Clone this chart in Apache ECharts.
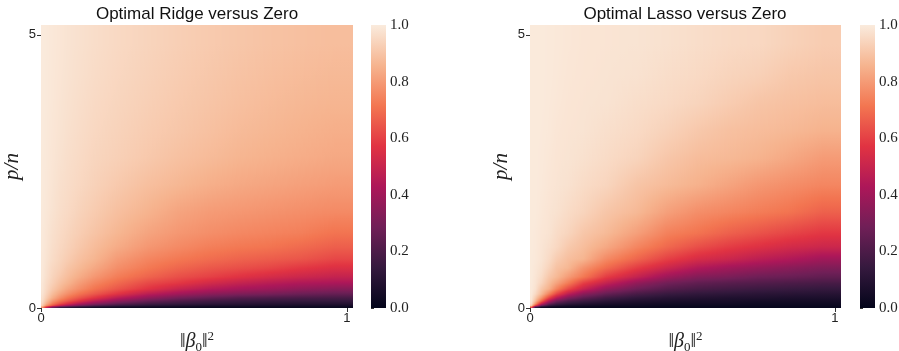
<!DOCTYPE html>
<html><head><meta charset="utf-8">
<script src="https://cdn.jsdelivr.net/npm/echarts@6/dist/echarts.min.js"></script>
<style>html,body{margin:0;padding:0;background:#fff}#c{width:899px;height:351px}</style>
</head><body><div id="c"></div>
<script>
// Cell edges along ||beta0||^2 (x) and p/n (y)
const xEdges = [0, 0.01, 0.025, 0.05, 0.075, 0.1, 0.15, 0.2, 0.3, 0.4, 0.5, 0.6, 0.7, 0.8, 0.9, 1.02];
const yEdges = [0, 0.03, 0.06, 0.1, 0.15, 0.2, 0.3, 0.4, 0.5, 0.65, 0.8, 1.0, 1.25, 1.5, 2.0, 2.5, 3.0, 3.5, 4.0, 4.5, 5.18];
const xTicks = [0, 1];
const yTicks = [0, 5];
const cbTicks = [0, 0.2, 0.4, 0.6, 0.8, 1.0];
const titles = ['Optimal Ridge versus Zero', 'Optimal Lasso versus Zero'];

// Ridge/Zero ratio, rows bottom (small p/n) to top, one value per cell
const ridgeValues = [
 [.78,.52,.30,.17,.13,.09,.06,.04,.03,.025,.02,.02,.02,.02,.02],
 [.91,.75,.61,.47,.37,.27,.19,.13,.095,.075,.06,.06,.055,.05,.05],
 [.94,.84,.72,.62,.54,.43,.33,.24,.17,.14,.12,.105,.095,.09,.09],
 [.96,.89,.79,.71,.65,.57,.47,.36,.265,.21,.175,.155,.145,.14,.14],
 [.97,.92,.845,.77,.71,.645,.57,.46,.36,.29,.25,.215,.20,.19,.185],
 [.98,.94,.88,.82,.77,.71,.65,.57,.465,.40,.35,.32,.30,.275,.26],
 [.985,.955,.91,.865,.82,.77,.71,.645,.57,.50,.45,.415,.39,.36,.34],
 [.988,.962,.93,.89,.858,.805,.75,.69,.62,.58,.53,.49,.46,.435,.425],
 [.991,.97,.94,.91,.88,.84,.79,.73,.675,.63,.60,.565,.535,.51,.49],
 [.992,.975,.95,.93,.90,.87,.83,.77,.72,.68,.65,.63,.61,.58,.555],
 [.993,.98,.96,.94,.92,.89,.86,.80,.75,.72,.695,.675,.66,.645,.615],
 [.994,.984,.966,.95,.934,.909,.878,.838,.79,.76,.735,.72,.71,.69,.665],
 [.995,.986,.971,.957,.943,.923,.898,.863,.82,.79,.77,.755,.745,.735,.71],
 [.996,.99,.978,.965,.955,.937,.917,.887,.855,.82,.80,.79,.78,.77,.76],
 [.997,.992,.982,.97,.962,.95,.934,.912,.885,.865,.845,.83,.82,.81,.80],
 [.997,.993,.985,.976,.967,.957,.943,.93,.91,.89,.875,.86,.85,.84,.83],
 [.998,.994,.987,.98,.972,.962,.95,.937,.92,.905,.89,.875,.865,.855,.845],
 [.998,.995,.989,.982,.975,.966,.955,.943,.928,.913,.90,.887,.876,.867,.86],
 [.998,.995,.99,.984,.978,.97,.96,.948,.934,.92,.907,.895,.885,.877,.87],
 [.998,.996,.991,.986,.98,.973,.964,.953,.94,.927,.915,.904,.895,.888,.882]
];

// Lasso/Zero ratio, rows bottom to top
const lassoValues = [
 [.63,.15,.05,.03,.02,.02,.01,.01,.01,.01,.01,.01,.01,.01,.01],
 [.90,.565,.24,.12,.08,.05,.04,.03,.03,.02,.02,.02,.02,.02,.02],
 [.96,.78,.48,.26,.17,.12,.09,.065,.05,.04,.04,.04,.03,.03,.03],
 [.982,.878,.685,.45,.30,.21,.16,.115,.085,.07,.06,.06,.05,.05,.05],
 [.986,.916,.786,.60,.45,.32,.24,.17,.125,.10,.09,.08,.08,.07,.07],
 [.993,.956,.872,.742,.61,.47,.35,.26,.19,.15,.13,.12,.11,.105,.10],
 [.995,.976,.907,.847,.743,.62,.50,.37,.28,.22,.19,.175,.16,.15,.14],
 [.996,.982,.943,.879,.817,.73,.60,.49,.37,.29,.25,.23,.215,.20,.19],
 [.997,.985,.96,.906,.87,.80,.72,.59,.49,.39,.33,.31,.28,.27,.25],
 [.997,.989,.974,.938,.893,.865,.78,.69,.59,.51,.44,.40,.37,.345,.32],
 [.997,.993,.981,.957,.92,.885,.86,.76,.68,.60,.54,.51,.47,.44,.40],
 [.997,.994,.984,.969,.951,.912,.882,.83,.75,.685,.63,.59,.56,.53,.51],
 [.997,.995,.987,.98,.961,.942,.905,.873,.81,.74,.71,.67,.64,.61,.58],
 [.997,.997,.991,.983,.976,.959,.941,.903,.87,.81,.77,.75,.73,.71,.67],
 [.997,.997,.994,.987,.982,.975,.96,.943,.90,.875,.85,.82,.79,.77,.75],
 [.997,.997,.995,.99,.984,.981,.973,.959,.94,.905,.88,.87,.855,.83,.80],
 [.997,.997,.996,.993,.987,.983,.981,.969,.956,.935,.91,.89,.88,.87,.855],
 [.997,.997,.997,.994,.99,.985,.982,.979,.966,.955,.94,.92,.90,.89,.88],
 [.997,.997,.997,.995,.992,.987,.984,.981,.976,.964,.954,.94,.93,.91,.90],
 [.997,.997,.997,.995,.993,.989,.985,.983,.981,.974,.964,.955,.95,.935,.92]
];

// seaborn "rocket" colormap stops
const rocket = ['#03051a','#35193e','#701f57','#ad1759','#e13342','#f37651','#f6b48f','#faebdd'];
const cmap = v => echarts.color.lerp(Math.max(0, Math.min(1, v)), rocket);

// Shading nodes: cell centres, plus the plot borders
const mids = e => e.slice(0, -1).map((a, k) => (a + e[k + 1]) / 2);
const xNodes = [xEdges[0], ...mids(xEdges), xEdges[xEdges.length - 1]];
const yNodes = [yEdges[0], ...mids(yEdges), yEdges[yEdges.length - 1]];

function padded(values) {
  const R = values.length, C = values[0].length, P = [];
  for (let i = 0; i <= R + 1; i++) {
    const row = values[Math.min(R - 1, Math.max(0, i - 1))];
    P.push(Array.from({ length: C + 2 }, (_, j) => row[Math.min(C - 1, Math.max(0, j - 1))]));
  }
  return P;
}
const fields = [padded(ridgeValues), padded(lassoValues)];

function patches(values) {
  const out = [];
  for (let i = 0; i <= values.length; i++)
    for (let j = 0; j <= values[0].length; j++)
      out.push([xNodes[j], xNodes[j + 1], yNodes[i], yNodes[i + 1], i, j]);
  return out;
}

function renderPatch(params, api) {
  const P = fields[params.seriesIndex];
  const i = api.value(4), j = api.value(5);
  const v00 = P[i][j], v10 = P[i][j + 1], v01 = P[i + 1][j], v11 = P[i + 1][j + 1];
  const pBL = api.coord([api.value(0), api.value(2)]);
  const pTR = api.coord([api.value(1), api.value(3)]);
  const w = pTR[0] - pBL[0], h = pBL[1] - pTR[1];
  if (w <= 0 || h <= 0) return null;
  const xa = Math.round(pBL[0]), xb = Math.round(pTR[0]);
  const ya = Math.round(pTR[1]), yb = Math.round(pBL[1]);
  const children = [];
  for (let px = xa; px < xb; px++) {
    const u = Math.max(0, Math.min(1, (px + 0.5 - pBL[0]) / w));
    const vb = v00 + (v10 - v00) * u, vt = v01 + (v11 - v01) * u;
    const stops = [0, 0.25, 0.5, 0.75, 1].map(t => ({ offset: t, color: cmap(vb + (vt - vb) * t) }));
    children.push({
      type: 'rect',
      shape: { x: px, y: ya, width: 1, height: Math.max(1, yb - ya) },
      style: { fill: new echarts.graphic.LinearGradient(0, 1, 0, 0, stops) }
    });
  }
  return { type: 'group', children };
}

function renderBar(params, api) {
  const p0 = api.coord([0, 1]);
  const p1 = api.coord([1, 0]);
  const stops = rocket.map((c, k) => ({ offset: k / (rocket.length - 1), color: c }));
  return {
    type: 'rect',
    shape: { x: p0[0], y: p0[1], width: p1[0] - p0[0], height: p1[1] - p0[1] },
    style: { fill: new echarts.graphic.LinearGradient(0, 1, 0, 0, stops) }
  };
}

const sansFont = 'Liberation Sans';
const grids = [
  { left: 41, top: 25, width: 312, height: 283, outerBoundsMode: 'none', containLabel: false },
  { left: 530, top: 25, width: 311, height: 283, outerBoundsMode: 'none', containLabel: false },
  { left: 371, top: 25, width: 15, height: 283, outerBoundsMode: 'none', containLabel: false },
  { left: 860, top: 25, width: 15, height: 283, outerBoundsMode: 'none', containLabel: false }
];

const xNameRich = {
  n: { fontFamily: 'Liberation Serif', fontSize: 20, color: '#222', lineHeight: 24 },
  b: { fontFamily: 'Liberation Serif', fontStyle: 'italic', fontSize: 20, color: '#222', lineHeight: 24 },
  s: { fontFamily: 'Liberation Serif', fontSize: 13, color: '#222', verticalAlign: 'bottom', lineHeight: 15 },
  p: { fontFamily: 'Liberation Serif', fontSize: 13, color: '#222', verticalAlign: 'top', lineHeight: 15 }
};

function mainX(i) {
  return {
    type: 'value', gridIndex: i, min: 0, max: xEdges[xEdges.length - 1], interval: 1,
    axisLine: { show: false }, splitLine: { show: false },
    axisTick: { show: true, length: 4, lineStyle: { color: '#333' }, customValues: xTicks },
    axisLabel: { fontFamily: sansFont, fontSize: 13, color: '#222', margin: 4, customValues: xTicks },
    name: '{n|‖}{b|β}{s|0}{n|‖}{p|2}', nameLocation: 'middle', nameGap: 22,
    nameTextStyle: { rich: xNameRich }
  };
}
function mainY(i) {
  return {
    type: 'value', gridIndex: i, min: 0, max: yEdges[yEdges.length - 1], interval: 5,
    axisLine: { show: false }, splitLine: { show: false },
    axisTick: { show: true, length: 4, lineStyle: { color: '#333' }, customValues: yTicks },
    axisLabel: { fontFamily: sansFont, fontSize: 13, color: '#222', margin: 5, customValues: yTicks },
    name: 'p/n', nameLocation: 'middle', nameGap: 18, nameRotate: 90,
    nameTextStyle: { fontFamily: 'Liberation Serif', fontStyle: 'italic', fontSize: 21, color: '#222' }
  };
}
function cbX(i) {
  return { type: 'value', gridIndex: i, min: 0, max: 1, show: false };
}
function cbY(i) {
  return {
    type: 'value', gridIndex: i, min: 0, max: 1, interval: 0.2, position: 'right',
    axisLine: { show: false }, splitLine: { show: false },
    axisTick: { show: true, length: 3, lineStyle: { color: '#333' } },
    axisLabel: { fontFamily: 'Liberation Serif', fontSize: 15, color: '#222', margin: 4,
      formatter: v => v.toFixed(1), customValues: cbTicks }
  };
}

const option = {
  animation: false,
  backgroundColor: '#fff',
  grid: grids,
  xAxis: [mainX(0), mainX(1), cbX(2), cbX(3)],
  yAxis: [mainY(0), mainY(1), cbY(2), cbY(3)],
  graphic: titles.map((t, i) => ({
    type: 'text', x: i === 0 ? 197 : 685, y: 14,
    style: { text: t, font: '17px "Liberation Sans"', fill: '#111', textAlign: 'center', textVerticalAlign: 'middle', align: 'center', verticalAlign: 'middle' }
  })),
  series: [
    { type: 'custom', xAxisIndex: 0, yAxisIndex: 0, data: patches(ridgeValues), renderItem: renderPatch, clip: true, silent: true, encode: { x: [0, 1], y: [2, 3] } },
    { type: 'custom', xAxisIndex: 1, yAxisIndex: 1, data: patches(lassoValues), renderItem: renderPatch, clip: true, silent: true, encode: { x: [0, 1], y: [2, 3] } },
    { type: 'custom', xAxisIndex: 2, yAxisIndex: 2, data: [[0, 1]], renderItem: renderBar, silent: true },
    { type: 'custom', xAxisIndex: 3, yAxisIndex: 3, data: [[0, 1]], renderItem: renderBar, silent: true }
  ]
};

const chart = echarts.init(document.getElementById('c'), null, { renderer: 'canvas' });
chart.setOption(option);
</script>
</body></html>
